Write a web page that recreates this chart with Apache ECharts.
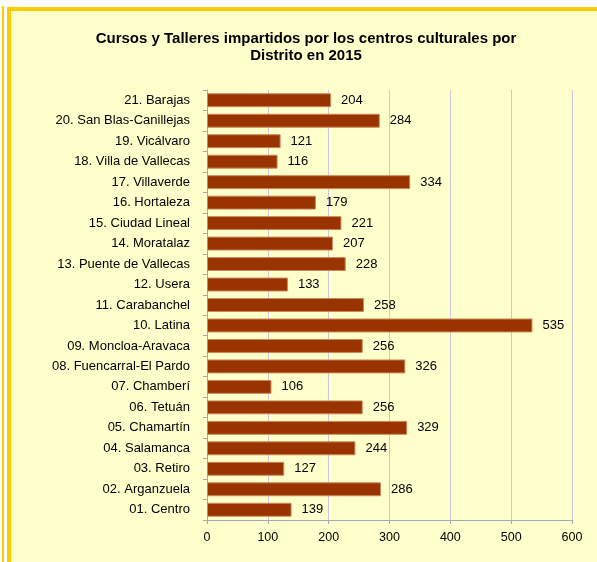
<!DOCTYPE html>
<html><head><meta charset="utf-8">
<script src="https://cdn.jsdelivr.net/npm/echarts@6/dist/echarts.min.js"></script>
<style>html,body{margin:0;padding:0;background:#fff}#c{width:597px;height:562px}</style>
</head><body><div id="c"></div>
<script>
const categories = ["01. Centro","02. Arganzuela","03. Retiro","04. Salamanca","05. Chamartín","06. Tetuán","07. Chamberí","08. Fuencarral-El Pardo","09. Moncloa-Aravaca","10. Latina","11. Carabanchel","12. Usera","13. Puente de Vallecas","14. Moratalaz","15. Ciudad Lineal","16. Hortaleza","17. Villaverde","18. Villa de Vallecas","19. Vicálvaro","20. San Blas-Canillejas","21. Barajas"];
const values = [139,286,127,244,329,256,106,326,256,535,258,133,228,207,221,179,334,116,121,284,204];
const xTicks = [0,100,200,300,400,500,600];
const titleText = "Cursos y Talleres impartidos por los centros culturales por\nDistrito en 2015";

const chart = echarts.init(document.getElementById('c'), null, {renderer:'canvas'});
chart.setOption({
  backgroundColor: '#ffffff',
  animation: false,
  graphic: [
    {type:'rect', shape:{x:2,y:6,width:2,height:600}, style:{fill:'#FFCC00'}, z:-10},
    {type:'rect', shape:{x:9,y:9,width:620,height:620}, style:{fill:'#FFFFCC', stroke:'#FFCC00', lineWidth:4}, z:-10}
  ],
  title: {
    text: titleText, left: 301, top: 25, textAlign: 'center',
    textStyle: {fontFamily:'Liberation Sans, Arial', fontSize:15, fontWeight:'bold', color:'#000', lineHeight:17}
  },
  grid: {left:207, right:25, top:90, bottom:42, containLabel:false},
  xAxis: {
    type:'value', min:0, max:600, interval:100,
    axisLine:{show:true, lineStyle:{color:'#A6A6B8', width:1}},
    axisTick:{show:true, length:4, lineStyle:{color:'#A6A6B8'}},
    splitLine:{show:true, lineStyle:{color:'#C8C8D8', width:1}},
    axisLabel:{fontFamily:'Liberation Sans, Arial', fontSize:12.5, color:'#000', margin:11,
      formatter: v => xTicks.includes(v) ? String(v) : ''}
  },
  yAxis: {
    type:'category', data: categories,
    axisLine:{show:true, lineStyle:{color:'#A6A6B8', width:1}},
    axisTick:{show:true, length:4, lineStyle:{color:'#A6A6B8'}},
    axisLabel:{fontFamily:'Liberation Sans, Arial', fontSize:13, color:'#000', margin:17}
  },
  series: [{
    type:'bar', data: values, barWidth:'68%',
    itemStyle:{color:'#993300', borderColor:'#C8895A', borderWidth:1},
    label:{show:true, position:'right', distance:10, fontFamily:'Liberation Sans, Arial', fontSize:13, color:'#000'}
  }]
});
</script></body></html>
